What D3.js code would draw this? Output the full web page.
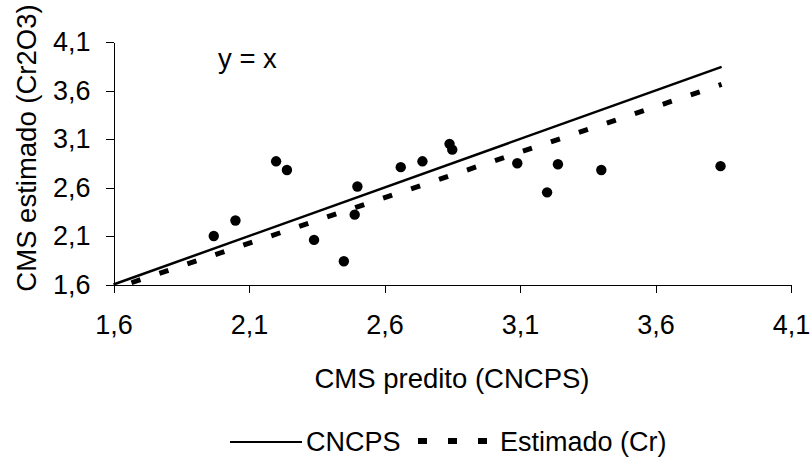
<!DOCTYPE html>
<html>
<head>
<meta charset="utf-8">
<script src="https://cdn.jsdelivr.net/npm/d3@7"></script>
<style>
  html, body { margin: 0; padding: 0; background: #fff; }
  svg { display: block; }
  text { font-family: Arial, "Liberation Sans", sans-serif; fill: #000; }
</style>
</head>
<body>
<svg id="chart" width="812" height="458"></svg>
<script>
// ---- Data ----
const cmsPredito = [1.97, 2.05, 2.20, 2.24, 2.34, 2.45, 2.49, 2.50, 2.66, 2.74, 2.84, 2.85, 3.09, 3.20, 3.24, 3.40, 3.84];
const cmsEstimado = [2.10, 2.26, 2.87, 2.78, 2.06, 1.84, 2.32, 2.61, 2.81, 2.87, 3.05, 2.99, 2.85, 2.55, 2.84, 2.78, 2.82];
const cncpsLineX = [1.6, 3.844];
const cncpsLineY = [1.6, 3.844];
const estimadoLineX = [1.647, 3.844];
const estimadoLineY = [1.60, 3.662];
const tickValues = [1.6, 2.1, 2.6, 3.1, 3.6, 4.1];
const xTitle = "CMS predito (CNCPS)";
const yTitle = "CMS estimado (Cr2O3)";
const annotation = "y = x";
const legendLabels = ["CNCPS", "Estimado (Cr)"];

// ---- Layout ----
const svg = d3.select("#chart");
const x = d3.scaleLinear().domain([1.6, 4.1]).range([113.5, 791]);
const y = d3.scaleLinear().domain([1.6, 4.1]).range([284.5, 42]);
const fmt = v => d3.format(".1f")(v).replace(".", ",");

svg.append("rect").attr("width", 812).attr("height", 458).attr("fill", "#fff");

// Axes
const xAxis = d3.axisBottom(x).tickValues(tickValues).tickFormat(fmt)
  .tickSizeInner(8).tickSizeOuter(0).tickPadding(22);
const yAxis = d3.axisLeft(y).tickValues(tickValues).tickFormat(fmt)
  .tickSizeInner(8).tickSizeOuter(0).tickPadding(15);

const gx = svg.append("g").attr("transform", `translate(0,${y(1.6)})`).call(xAxis);
const gy = svg.append("g").attr("transform", `translate(${x(1.6)},0)`).call(yAxis);
[gx, gy].forEach(g => {
  g.selectAll("path, line").attr("stroke", "#000").attr("stroke-width", 1).attr("shape-rendering", "crispEdges");
  g.selectAll("text").attr("font-size", 27).attr("font-family", 'Arial, "Liberation Sans", sans-serif').attr("fill", "#000");
});

// Lines
const lineGen = d3.line().x(d => x(d[0])).y(d => y(d[1]));
const cncpsPts = cncpsLineX.map((v, i) => [v, cncpsLineY[i]]);
const estPts = estimadoLineX.map((v, i) => [v, estimadoLineY[i]]);

svg.append("path").datum(cncpsPts).attr("d", lineGen)
  .attr("fill", "none").attr("stroke", "#000").attr("stroke-width", 2.5);

svg.append("path").datum(estPts).attr("d", lineGen)
  .attr("fill", "none").attr("stroke", "#000").attr("stroke-width", 5)
  .attr("stroke-dasharray", "9.5,20").attr("stroke-dashoffset", 24);

// Points
svg.append("g").selectAll("circle").data(cmsPredito.map((v, i) => [v, cmsEstimado[i]]))
  .join("circle")
  .attr("cx", d => x(d[0])).attr("cy", d => y(d[1])).attr("r", 5.2).attr("fill", "#000");

// Annotation
svg.append("text").attr("x", 218).attr("y", 68).attr("font-size", 27.5).text(annotation);

// Axis titles
svg.append("text").attr("x", 452).attr("y", 388).attr("text-anchor", "middle")
  .attr("font-size", 27.5).text(xTitle);
svg.append("text").attr("transform", "translate(36,148) rotate(-90)").attr("text-anchor", "middle")
  .attr("font-size", 27.5).text(yTitle);

// Legend
const lg = svg.append("g");
lg.append("line").attr("x1", 230).attr("x2", 302).attr("y1", 442).attr("y2", 442)
  .attr("stroke", "#000").attr("stroke-width", 2);
lg.append("text").attr("x", 306).attr("y", 451).attr("font-size", 27).text(legendLabels[0]);
lg.append("line").attr("x1", 418).attr("x2", 488).attr("y1", 441).attr("y2", 441)
  .attr("stroke", "#000").attr("stroke-width", 6).attr("stroke-dasharray", "9,21");
lg.append("text").attr("x", 500).attr("y", 451).attr("font-size", 27).text(legendLabels[1]);
</script>
</body>
</html>
